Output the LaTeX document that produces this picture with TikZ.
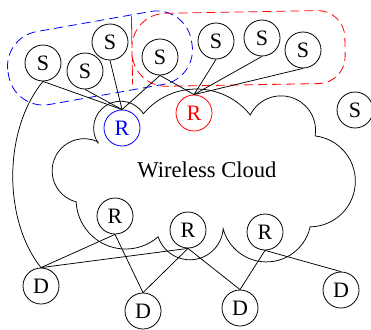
\documentclass[tikz,border=0pt]{standalone}
\usepackage{fontspec}
\setmainfont{Liberation Serif}
\begin{document}
\begin{tikzpicture}[x=1pt,y=-1pt,
  nd/.style={circle,draw,fill=white,line width=0.8pt,minimum size=36pt,inner sep=0pt,font=\fontsize{22}{24}\selectfont},
  ln/.style={line width=0.75pt},
  dsh/.style={line width=0.8pt,dash pattern=on 9pt off 5pt}]
\useasboundingbox (0,0) rectangle (371,329);
% dashed groups
\draw[dsh,blue,rounded corners=35,rotate around={10:(100,58)}] (7,21) rectangle (193,95);
\draw[dsh,red,rotate around={1:(238.5,48.5)}] [rounded corners=34] (132,48.5) -- (132,12) [rounded corners=27] -- (345,12) -- (345,85) [rounded corners=34] -- (132,85) -- cycle;
% cloud
\draw[ln] (98,143) arc[start angle=146.9,end angle=327.5,radius=27]
 arc[start angle=219.9,end angle=321.4,radius=69]
 arc[start angle=206.5,end angle=369.3,radius=34.5]
 arc[start angle=276.8,end angle=449.5,radius=45.6]
 arc[start angle=12.5,end angle=164.9,radius=44.8]
 arc[start angle=4.1,end angle=161.8,radius=33.4]
 arc[start angle=48.9,end angle=177.3,radius=49.5]
 arc[start angle=104.6,end angle=295.7,radius=32.1] -- cycle;
\node[font=\fontsize{22.6}{26}\selectfont] (wc) at (207,170) {Wireless Cloud};
% nodes
\node[nd] (S1) at (43,63) {S};
\node[nd] (S2) at (85,71) {S};
\node[nd] (S3) at (110,42) {S};
\node[nd] (S4) at (160,57) {S};
\node[nd] (S5) at (216,41) {S};
\node[nd] (S6) at (262,38) {S};
\node[nd] (S7) at (303,50) {S};
\node[nd] (S8) at (355,110) {S};
\node[nd,draw=blue,text=blue] (Rb) at (122,128) {R};
\node[nd,draw=red,text=red] (Rr) at (194,113) {R};
\node[nd] (R3) at (115,216) {R};
\node[nd] (R4) at (188,230) {R};
\node[nd] (R5) at (265,232) {R};
\node[nd] (D1) at (41,286) {D};
\node[nd] (D2) at (143,311) {D};
\node[nd] (D3) at (240,308) {D};
\node[nd] (D4) at (341,290) {D};
% connectors
\draw[ln] (S1.south) -- (Rb.north);
\draw[ln] (S2.south) -- (Rb.north);
\draw[ln] (S3.south) -- (Rb.north);
\draw[ln] (S4.south) -- (Rb.north);
\draw[ln] (S4.south) -- (Rr.north);
\draw[ln] (S5.south) -- (Rr.north);
\draw[ln] (S6.south) -- (Rr.north);
\draw[ln] (S7.south) -- (Rr.north);
\draw[ln] (S1.south) .. controls (3,130) and (3,220) .. (D1.north);
\draw[ln] (D1.north) -- (R3.south);
\draw[ln] (D1.north) -- (R4.south);
\draw[ln] (R3.south) -- (D2.north);
\draw[ln] (R4.south) -- (D2.north);
\draw[ln] (R4.south) -- (D3.north);
\draw[ln] (R5.south) -- (D3.north);
\draw[ln] (R5.south) -- (D4.north);
\end{tikzpicture}
\end{document}
